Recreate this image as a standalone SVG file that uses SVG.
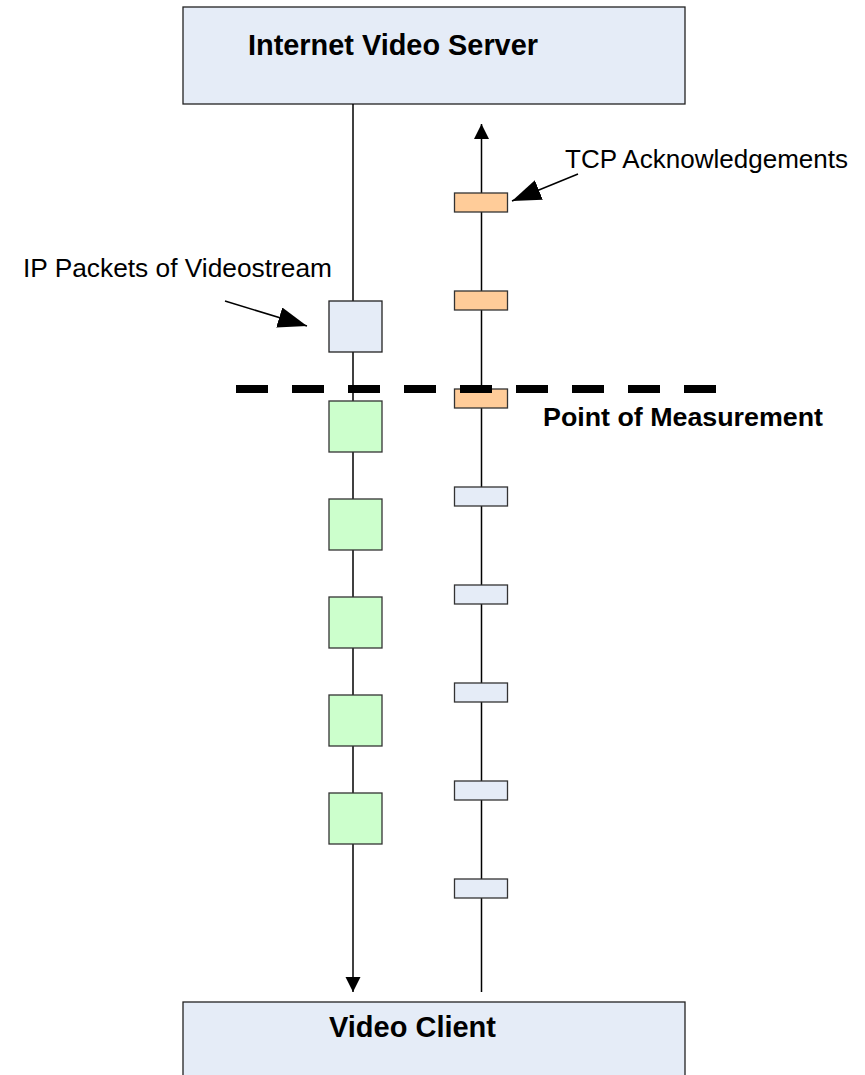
<svg xmlns="http://www.w3.org/2000/svg" width="865" height="1075" viewBox="0 0 865 1075">
  <style>
    .box { fill: #E5ECF7; stroke: #222; stroke-width: 1.3; }
    .pkt { fill: #CCFFCC; stroke: #333; stroke-width: 1.3; }
    .ack { fill: #FFCC99; stroke: #333; stroke-width: 1.3; }
    .cli { fill: #E5ECF7; stroke: #333; stroke-width: 1.3; }
    .line { stroke: #000; stroke-width: 1.5; fill: none; }
    .bold { font-family: "Liberation Sans", Arial, sans-serif; font-weight: bold; fill: #000; }
    .reg { font-family: "Liberation Sans", Arial, sans-serif; fill: #000; }
  </style>
  <defs>
    <marker id="small" markerUnits="userSpaceOnUse" markerWidth="16" markerHeight="16" refX="15" refY="7.5" orient="auto">
      <path d="M0,0 L15,7.5 L0,15 Z" fill="#000"/>
    </marker>
    <marker id="big" markerUnits="userSpaceOnUse" markerWidth="30" markerHeight="22" refX="29" refY="10.5" orient="auto">
      <path d="M0,0 L29,10.5 L0,21 Z" fill="#000"/>
    </marker>
  </defs>

  <g id="server">
    <rect class="box" x="183" y="7" width="502" height="97"/>
    <text class="bold" x="248" y="55" font-size="29" textLength="290" lengthAdjust="spacingAndGlyphs">Internet Video Server</text>
  </g>

  <g id="client">
    <rect class="box" x="183" y="1002" width="502" height="100"/>
    <text class="bold" x="329" y="1037" font-size="29" textLength="167" lengthAdjust="spacingAndGlyphs">Video Client</text>
  </g>

  <g id="connectors">
    <line class="line" x1="353" y1="104" x2="353" y2="992" marker-end="url(#small)"/>
    <line class="line" x1="481.5" y1="992" x2="481.5" y2="124" marker-end="url(#small)"/>
    <line class="line" x1="225" y1="301" x2="307" y2="326" marker-end="url(#big)"/>
    <line class="line" x1="578" y1="174" x2="512" y2="201" marker-end="url(#big)"/>
  </g>

  <g id="video-packets">
    <rect class="box" x="329" y="301" width="53" height="51"/>
    <rect class="pkt" x="329" y="401" width="53" height="51"/>
    <rect class="pkt" x="329" y="499" width="53" height="51"/>
    <rect class="pkt" x="329" y="597" width="53" height="51"/>
    <rect class="pkt" x="329" y="695" width="53" height="51"/>
    <rect class="pkt" x="329" y="793" width="53" height="51"/>
  </g>

  <g id="acks">
    <rect class="ack" x="454.5" y="193" width="53" height="19"/>
    <rect class="ack" x="454.5" y="291" width="53" height="19"/>
    <rect class="ack" x="454.5" y="389" width="53" height="19"/>
    <rect class="cli" x="454.5" y="487" width="53" height="19"/>
    <rect class="cli" x="454.5" y="585" width="53" height="19"/>
    <rect class="cli" x="454.5" y="683" width="53" height="19"/>
    <rect class="cli" x="454.5" y="781" width="53" height="19"/>
    <rect class="cli" x="454.5" y="879" width="53" height="19"/>
  </g>

  <g id="measurement">
    <line x1="236" y1="389" x2="716" y2="389" stroke="#000" stroke-width="8" stroke-dasharray="32 24"/>
    <text class="bold" x="543" y="426" font-size="26" textLength="280" lengthAdjust="spacingAndGlyphs">Point of Measurement</text>
  </g>

  <g id="labels">
    <text class="reg" x="565" y="168" font-size="26" textLength="283" lengthAdjust="spacingAndGlyphs">TCP Acknowledgements</text>
    <text class="reg" x="23" y="277" font-size="26" textLength="309" lengthAdjust="spacingAndGlyphs">IP Packets of Videostream</text>
  </g>
</svg>
